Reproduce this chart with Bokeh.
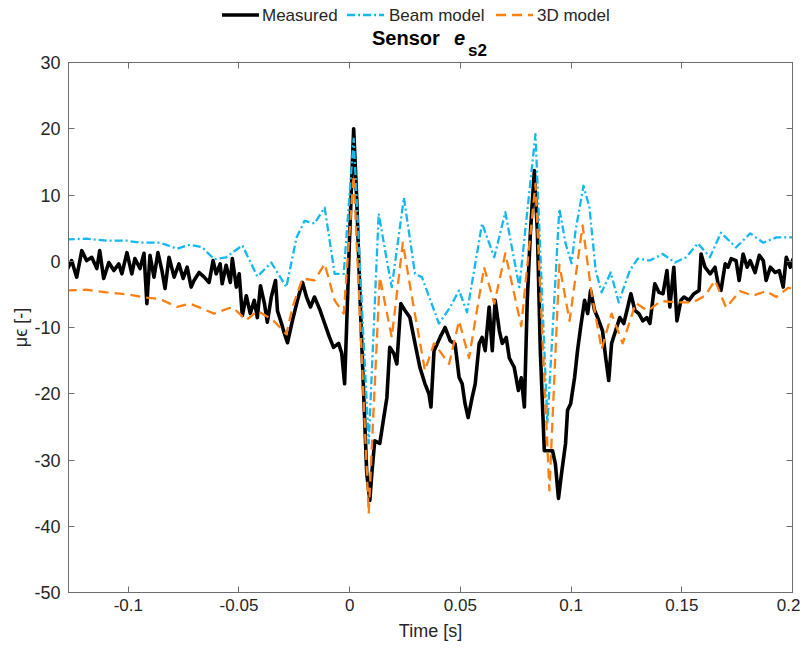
from bokeh.plotting import figure
from bokeh.models import Range1d, LinearAxis, FixedTicker, Div
from bokeh.layouts import column
from bokeh.embed import file_html
from bokeh.resources import INLINE

# ---- data ----
t_meas = [-0.1278, -0.1256, -0.1233, -0.1210, -0.1188, -0.1165, -0.1142, -0.1129, -0.1111, -0.1088,
          -0.1065, -0.1043, -0.1029, -0.1006, -0.0984, -0.0970, -0.0947, -0.0929, -0.0916, -0.0902,
          -0.0884, -0.0866, -0.0848, -0.0834, -0.0816, -0.0793, -0.0771, -0.0752, -0.0734, -0.0716,
          -0.0703, -0.0680, -0.0657, -0.0635, -0.0617, -0.0603, -0.0585, -0.0576, -0.0558, -0.0539,
          -0.0530, -0.0512, -0.0499, -0.0485, -0.0467, -0.0449, -0.0431, -0.0417, -0.0403, -0.0385,
          -0.0372, -0.0354, -0.0335, -0.0326, -0.0308, -0.0295, -0.0281, -0.0258, -0.0236, -0.0213,
          -0.0195, -0.0177, -0.0159, -0.0136, -0.0113, -0.0091, -0.0073, -0.0050, -0.0036, -0.0023,
          -0.0014, 0.0000, 0.0018, 0.0032, 0.0045, 0.0063, 0.0077, 0.0091, 0.0100, 0.0113,
          0.0136, 0.0154, 0.0168, 0.0181, 0.0199, 0.0213, 0.0231, 0.0249, 0.0272, 0.0295,
          0.0317, 0.0340, 0.0358, 0.0367, 0.0381, 0.0408, 0.0431, 0.0454, 0.0476, 0.0494,
          0.0508, 0.0521, 0.0535, 0.0553, 0.0567, 0.0585, 0.0598, 0.0612, 0.0630, 0.0644,
          0.0657, 0.0676, 0.0689, 0.0707, 0.0721, 0.0743, 0.0762, 0.0775, 0.0789, 0.0802,
          0.0816, 0.0834, 0.0848, 0.0861, 0.0879, 0.0916, 0.0929, 0.0943, 0.0957, 0.0975,
          0.0984, 0.0998, 0.1016, 0.1029, 0.1043, 0.1061, 0.1075, 0.1088, 0.1106, 0.1120,
          0.1142, 0.1156, 0.1170, 0.1183, 0.1201, 0.1220, 0.1238, 0.1256, 0.1270, 0.1288,
          0.1306, 0.1324, 0.1342, 0.1356, 0.1378, 0.1397, 0.1415, 0.1433, 0.1446, 0.1464,
          0.1478, 0.1496, 0.1510, 0.1532, 0.1555, 0.1578, 0.1587, 0.1605, 0.1628, 0.1650,
          0.1664, 0.1677, 0.1696, 0.1709, 0.1723, 0.1745, 0.1759, 0.1777, 0.1795, 0.1809,
          0.1831, 0.1850, 0.1868, 0.1881, 0.1900, 0.1922, 0.1940, 0.1958, 0.1972, 0.1990,
          0.2003]
y_meas = [-1.4, 0.1, -2.4, 1.6, 0.1, 0.6, -1.1, 1.6, -2.6, -0.2,
          -1.4, -0.4, -1.9, 1.3, -1.9, 0.4, -1.1, 1.2, -6.4, 0.9,
          -2.4, 1.3, -1.4, -4.1, 0.6, -2.4, -0.4, -2.6, -0.9, -3.9,
          -2.9, -1.7, -2.4, -3.2, 0.1, -1.9, -0.4, -3.4, -0.6, -3.2,
          0.4, -3.9, -1.9, -8.2, -5.2, -7.9, -5.9, -8.5, -3.7, -6.4,
          -9.2, -5.4, -2.9, -7.5, -9.4, -10.9, -12.3, -8.9, -5.9, -3.2,
          -5.4, -6.9, -5.4, -7.2, -9.4, -11.5, -13.0, -12.4, -13.9, -18.5,
          -10.0, 4.1, 20.0, 9.2, -3.9, -19.9, -32.0, -36.1, -32.0, -27.1,
          -27.5, -23.6, -20.6, -13.0, -13.9, -15.5, -6.4, -7.4, -8.5, -12.4,
          -16.0, -18.5, -20.0, -22.0, -13.5, -11.5, -10.0, -12.0, -12.5, -17.5,
          -18.5, -21.5, -23.6, -20.6, -18.5, -12.4, -11.5, -13.5, -6.9, -13.5,
          -5.9, -10.5, -12.4, -11.5, -14.6, -16.0, -19.5, -17.6, -22.0, -5.9,
          4.2, 13.7, 4.2, -13.5, -28.6, -28.6, -30.6, -35.8, -32.0, -27.5,
          -22.5, -21.5, -17.5, -13.5, -10.0, -5.9, -7.9, -4.4, -7.4, -8.5,
          -10.5, -14.5, -18.0, -12.4, -10.5, -8.5, -9.4, -6.9, -4.9, -7.4,
          -7.9, -9.0, -8.5, -9.4, -3.4, -4.7, -4.9, -1.4, -6.9, -0.9,
          -9.0, -5.9, -5.4, -5.9, -4.9, -4.4, 1.1, -0.9, -1.9, -0.9,
          -3.4, -4.4, -0.4, -0.9, 0.4, 0.1, -2.9, 1.1, -0.9, 0.1,
          -1.7, 0.9, 0.1, -2.9, -0.9, -1.7, -1.4, -3.9, 0.6, -0.9,
          0.4]

t_beam = [-0.1278, -0.1188, -0.1097, -0.1006, -0.0947, -0.0857, -0.0780, -0.0721, -0.0666, -0.0612,
          -0.0558, -0.0485, -0.0417, -0.0354, -0.0286, -0.0240, -0.0204, -0.0159, -0.0113, -0.0068,
          -0.0027, 0.0018, 0.0086, 0.0131, 0.0168, 0.0190, 0.0245, 0.0295, 0.0326, 0.0403,
          0.0449, 0.0494, 0.0530, 0.0598, 0.0653, 0.0703, 0.0766, 0.0839, 0.0893, 0.0947,
          0.0975, 0.1002, 0.1020, 0.1056, 0.1083, 0.1111, 0.1138, 0.1179, 0.1215, 0.1265,
          0.1301, 0.1355, 0.1414, 0.1469, 0.1519, 0.1573, 0.1627, 0.1677, 0.1745, 0.1809,
          0.1868, 0.1927, 0.2004]
y_beam = [3.3, 3.4, 3.1, 3.1, 2.8, 2.8, 1.9, 2.5, 2.1, 0.3,
          0.6, 2.4, -2.3, -0.2, -3.9, 3.6, 6.1, 5.7, 8.1, -1.9,
          -1.9, 18.5, -27.5, 7.2, 0.1, -3.9, 9.6, -1.9, -2.4, -9.4,
          -7.2, -4.4, -7.7, 5.7, 0.6, 7.4, -3.9, 19.2, -24.5, 7.9,
          2.7, -0.3, 4.6, 11.4, 8.1, -1.4, -4.7, -1.7, -6.2, -1.4,
          0.4, 0.1, 1.1, -0.2, 0.6, 2.7, 0.6, 4.3, 2.1, 4.2,
          2.8, 3.6, 3.6]

t_3d = [-0.1278, -0.1188, -0.1097, -0.1006, -0.0916, -0.0857, -0.0780, -0.0721, -0.0612, -0.0530,
        -0.0467, -0.0417, -0.0349, -0.0286, -0.0258, -0.0213, -0.0159, -0.0113, -0.0068, -0.0027,
        0.0018, 0.0086, 0.0136, 0.0190, 0.0240, 0.0281, 0.0340, 0.0381, 0.0449, 0.0494,
        0.0539, 0.0607, 0.0653, 0.0703, 0.0775, 0.0839, 0.0902, 0.0947, 0.0993, 0.1052,
        0.1093, 0.1138, 0.1183, 0.1233, 0.1292, 0.1346, 0.1405, 0.1469, 0.1550, 0.1605,
        0.1650, 0.1700, 0.1763, 0.1822, 0.1881, 0.1927, 0.1981, 0.2013]
y_3d = [-4.4, -4.3, -4.7, -5.0, -5.5, -5.7, -6.9, -6.4, -7.9, -6.9,
        -8.9, -7.5, -8.8, -11.0, -6.9, -2.6, -2.9, -0.4, -5.9, -7.9,
        13.0, -38.1, -2.4, -11.5, 2.8, -5.4, -16.5, -12.4, -15.5, -9.0,
        -14.6, -0.9, -6.4, 1.2, -9.8, 11.7, -34.6, -0.5, -9.0, 5.4,
        -5.0, -13.3, -7.9, -12.4, -6.3, -7.5, -6.0, -6.2, -6.2, -5.2,
        -2.9, -7.0, -4.5, -5.2, -4.5, -5.4, -4.0, -4.3]

x_ticks = [-0.1, -0.05, 0, 0.05, 0.1, 0.15, 0.2]
x_tick_labels = ["-0.1", "-0.05", "0", "0.05", "0.1", "0.15", "0.2"]
y_ticks = [-50, -40, -30, -20, -10, 0, 10, 20, 30]
y_tick_labels = ["-50", "-40", "-30", "-20", "-10", "0", "10", "20", "30"]
series_labels = ["Measured", "Beam model", "3D model"]
title_parts = ["Sensor", "e", "s2"]

FONT = "Liberation Sans"
TXT = "#262626"
AXC = "#6e6e6e"
styles = [dict(color="black", width=3.6, dash=None),
          dict(color="#12B8F0", width=2.3, dash="8 3 2 3"),
          dict(color="#FF7F10", width=2.3, dash="10 6")]

HEADER_H = 50     # header box height; the title subscript may overflow into the transparent plot border
SVG_H = 62

p = figure(width=800, height=594, output_backend="svg", toolbar_location=None,
           x_range=Range1d(-0.127, 0.2), y_range=Range1d(-50, 30),
           min_border_left=68, min_border_right=8, min_border_top=12, min_border_bottom=52)
p.background_fill_color = "white"
p.border_fill_alpha = 0
p.outline_line_color = AXC
p.xgrid.visible = False
p.ygrid.visible = False

for (tt, yy), st in zip([(t_meas, y_meas), (t_beam, y_beam), (t_3d, y_3d)], styles):
    kw = dict(line_color=st["color"], line_width=st["width"], line_join="round")
    if st["dash"]:
        kw["line_dash"] = st["dash"]
    p.line(tt, yy, **kw)


def style_axis(ax, show_labels=True):
    ax.major_tick_in = 6
    ax.major_tick_out = 0
    ax.minor_tick_line_color = None
    ax.axis_line_color = AXC
    ax.major_tick_line_color = AXC
    ax.major_label_text_font = FONT
    ax.major_label_text_color = TXT
    if not show_labels:
        ax.major_label_text_font_size = "0px"
        ax.major_label_standoff = 0


xa = p.xaxis[0]
ya = p.yaxis[0]
xa.ticker = FixedTicker(ticks=x_ticks)
ya.ticker = FixedTicker(ticks=y_ticks)
xa.major_label_overrides = dict(zip(x_ticks, x_tick_labels))
ya.major_label_overrides = dict(zip(y_ticks, y_tick_labels))
style_axis(xa)
style_axis(ya)
xa.major_label_text_font_size = "17px"
ya.major_label_text_font_size = "18px"
xa.major_label_standoff = 6
ya.major_label_standoff = 8
xa.axis_label = "Time [s]"
ya.axis_label = "μϵ [-]"
for a in (xa, ya):
    a.axis_label_text_font = FONT
    a.axis_label_text_font_size = "18px"
    a.axis_label_text_font_style = "normal"
    a.axis_label_text_color = TXT
xa.axis_label_standoff = 7
ya.axis_label_standoff = 0

# mirrored tick marks on the right and top edges (no labels)
ra = LinearAxis(ticker=FixedTicker(ticks=y_ticks))
style_axis(ra, False)
ra.major_label_overrides = {t: "" for t in y_ticks}
p.add_layout(ra, "right")
ta = LinearAxis(ticker=FixedTicker(ticks=x_ticks))
style_axis(ta, False)
ta.major_label_overrides = {t: "" for t in x_ticks}
p.add_layout(ta, "above")

# ---- header: legend row and title (HTML/SVG text) ----
leg_x = [222, 347, 496]      # legend sample start (px)
txt_x = [262, 389, 537]      # legend label start (px)
parts = []
for st, lx, tx, lab in zip(styles, leg_x, txt_x, series_labels):
    dash = f' stroke-dasharray="{st["dash"]}"' if st["dash"] else ""
    parts.append(f'<line x1="{lx}" y1="15" x2="{lx + 37}" y2="15" stroke="{st["color"]}" '
                 f'stroke-width="{st["width"]}"{dash}/>')
    parts.append(f'<text x="{tx}" y="21" font-family="{FONT}" font-size="17" fill="{TXT}">{lab}</text>')
parts.append(f'<text x="372" y="45" font-family="{FONT}" font-size="20" font-weight="bold" '
             f'fill="black">{title_parts[0]}</text>')
parts.append(f'<text x="454" y="45" font-family="{FONT}" font-size="20" font-weight="bold" '
             f'font-style="italic" fill="black">{title_parts[1]}</text>')
parts.append(f'<text x="468" y="56" font-family="{FONT}" font-size="17" font-weight="bold" '
             f'fill="black">{title_parts[2]}</text>')
svg = (f'<svg xmlns="http://www.w3.org/2000/svg" width="800" height="{SVG_H}" '
       f'style="display:block;overflow:visible">' + "".join(parts) + '</svg>')
header = Div(text=svg, width=800, height=HEADER_H, margin=0,
             styles={"padding": "0", "margin": "0", "line-height": "0", "overflow": "visible"})

layout = column(header, p, spacing=0, margin=0)
open("out.html", "w").write(file_html(layout, INLINE))
